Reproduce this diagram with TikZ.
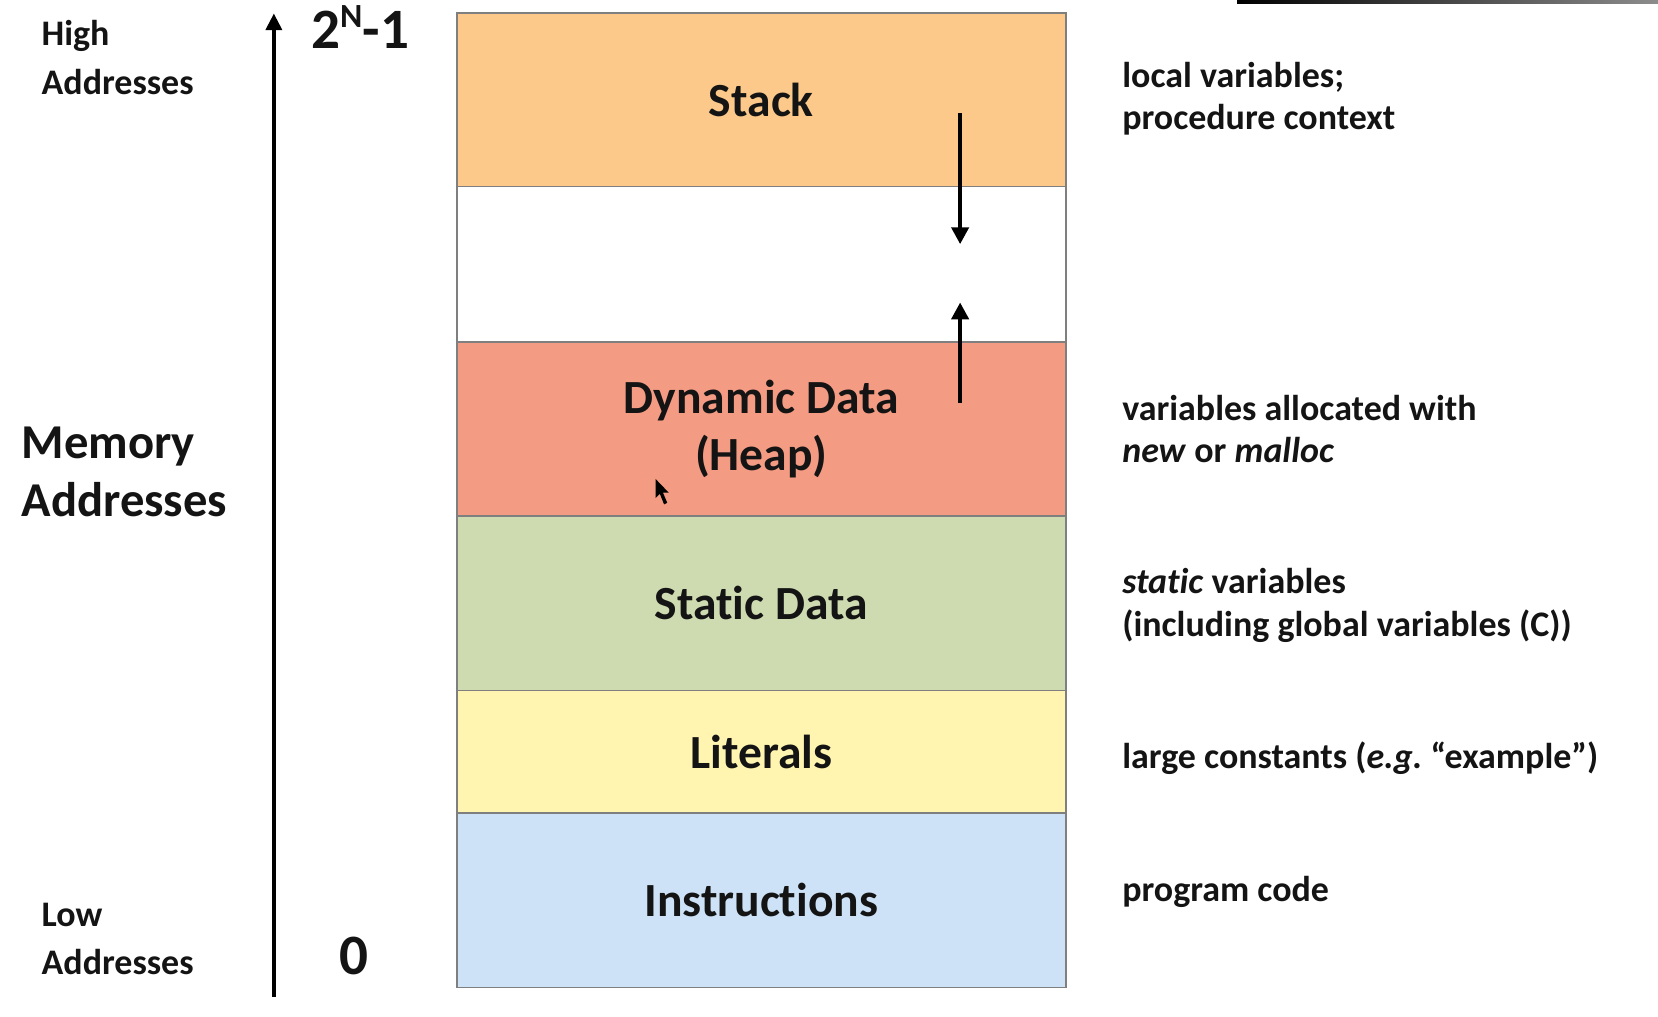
\documentclass[tikz,border=0pt]{standalone}
\usepackage{fontspec}
\setmainfont{Carlito}[Ligatures=NoCommon]
\usetikzlibrary{arrows.meta}
\newcommand\mylines[1]{\begin{tabular}[t]{@{}l@{}}#1\end{tabular}}
\definecolor{stackc}{HTML}{FCC98A}
\definecolor{heapc}{HTML}{F39B83}
\definecolor{staticc}{HTML}{CEDBB0}
\definecolor{litc}{HTML}{FFF5B1}
\definecolor{instc}{HTML}{CDE2F7}
\definecolor{segline}{HTML}{7F7F7F}
\definecolor{txt}{HTML}{141414}
\frenchspacing
\begin{document}
\begin{tikzpicture}[x=0.5pt,y=-0.5pt,
  seg/.style={draw=segline, line width=0.8pt, minimum width=288pt, inner sep=0pt,
    font=\fontsize{22.5}{27}\selectfont\bfseries, align=center, text=txt},
  desc/.style={anchor=base west, inner sep=0pt, text=txt,
    font=\fontsize{17}{20}\selectfont\bfseries},
  side/.style={anchor=base west, inner sep=0pt, text=txt},
  arr/.style={line width=2pt, -{Triangle[length=8pt,width=8pt]}},
  axisarr/.style={line width=2pt, -{Triangle[length=8pt,width=7.5pt]}}]
\useasboundingbox (0,0) rectangle (1568,961);
\shade[left color=black, right color=black!45] (1170,0) rectangle (1568,3.5);
% memory segments
\node[seg, fill=stackc, minimum height=82.25pt] (stack) at (720,94.25) {Stack};
\node[seg, fill=white, minimum height=73.5pt] (free) at (720,250) {};
\node[seg, fill=heapc, minimum height=82.25pt] (heap) at (720,405.75) {Dynamic Data\\(Heap)};
\node[seg, fill=staticc, minimum height=82.5pt] (static) at (720,570.5) {Static Data};
\node[seg, fill=litc, minimum height=58pt] (lit) at (720,711) {Literals};
\node[seg, fill=instc, minimum height=82.5pt] (inst) at (720,851.5) {Instructions};
% growth arrows
\coordinate (sgTop) at (908,107);
\coordinate (sgEnd) at (908,231);
\coordinate (hpTip) at (908,286);
\coordinate (hpBot) at (908,381);
\draw[arr] (sgTop) -- (sgEnd);
\draw[arr] (hpBot) -- (hpTip);
% cursor
\fill[black] (620,453) -- (620,471) -- (624,467) -- (628,477) -- (631,475.5) -- (627,466) -- (632.5,466) -- cycle;
% address axis
\coordinate (axB) at (259,942.6);
\coordinate (axT) at (259,12.6);
\draw[axisarr] (axB) -- (axT);
\node[side, font=\fontsize{17}{22.8}\selectfont\bfseries] (high) at (39,43.5) {\mylines{High\\Addresses}};
\node[side, font=\fontsize{17}{22.4}\selectfont\bfseries] (low) at (39,876.5) {\mylines{Low\\Addresses}};
\node[side, font=\fontsize{23}{27}\selectfont\bfseries] (mem) at (20,434) {\mylines{Memory\\Addresses}};
\node[side, font=\fontsize{27}{30}\selectfont\bfseries] (topaddr) at (294,45.7) {2\raisebox{.36em}{\fontsize{16}{17}\selectfont N}-1};
\node[side, font=\fontsize{27}{30}\selectfont\bfseries] (zero) at (321,922) {0};
% descriptions
\node[desc] (d1) at (1061,82.5) {\mylines{local variables;\\procedure context}};
\node[desc] (d2) at (1061,397.5) {\mylines{variables allocated with\\\textit{new} or \textit{malloc}}};
\node[desc] (d3) at (1061,561.5) {\mylines{\textit{static} variables\\(including global variables (C))}};
\node[desc] (d4) at (1061,726.5) {large constants (\textit{e.g.} “example”)};
\node[desc] (d5) at (1061,852.5) {program code};
\end{tikzpicture}
\end{document}
